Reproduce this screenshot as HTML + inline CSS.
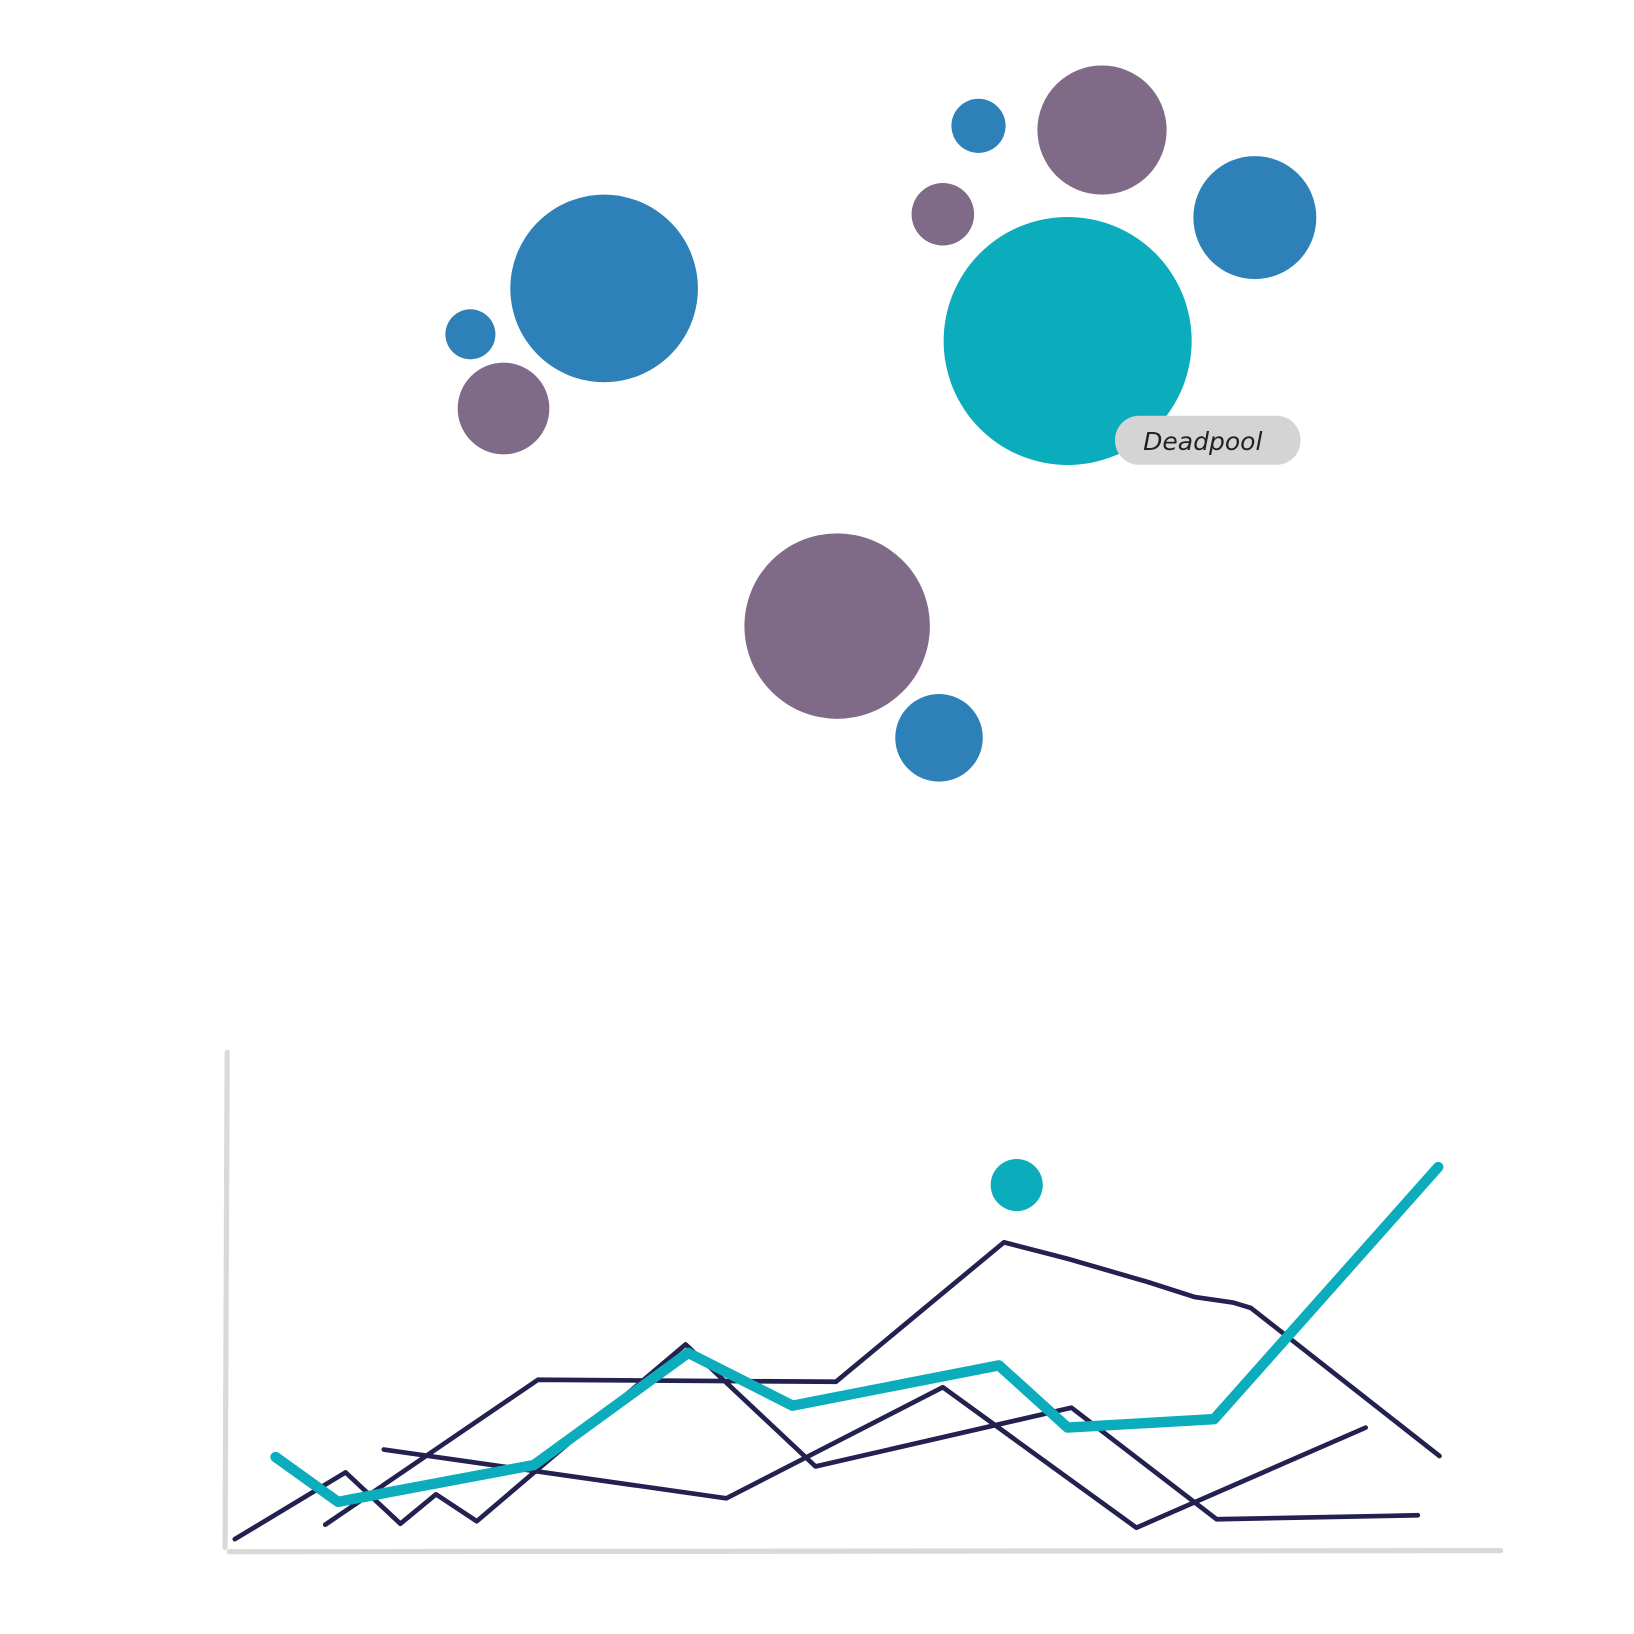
<!DOCTYPE html>
<html><head><meta charset="utf-8"><style>
html,body{margin:0;padding:0;background:#fff;}
svg{display:block;}
</style></head><body>
<svg id="chart" width="1634" height="1634" viewBox="0 0 1568 1568" xmlns="http://www.w3.org/2000/svg">
<g id="bubbles"></g>
<g id="lines">
<line x1="218" y1="1010" x2="216" y2="1485" stroke="#dcd8da" stroke-width="5" stroke-linecap="round"/>
<line x1="220" y1="1489" x2="1440" y2="1488" stroke="#dcd8da" stroke-width="5" stroke-linecap="round"/>
</g>
<g>
<rect x="1070" y="399" width="178" height="47" rx="23" fill="#d4d4d4"/>
<text x="1097" y="432" font-family="'DejaVu Sans', cursive" font-style="italic" font-size="24" fill="#222">Deadpool</text>
</g>
</svg>
<script>
// Bubble chart data
const bubbleX = [29.6, 19.1, 59.0, 80.7, 55.9, 21.7, 68.7, 56.2, 47.9, 66.0];
const bubbleY = [65.4, 59.9, 84.9, 73.9, 11.5, 51.0, 84.4, 74.3, 24.9, 59.1];
const bubbleR = [90, 24, 26, 59, 42, 44, 62, 30, 89, 119];
const bubbleGroup = ['blue','blue','blue','blue','blue','purple','purple','purple','purple','teal'];
const groupColors = {blue:'#2e80b8', purple:'#7f6b87', teal:'#0bacbb'};

// Line chart data
const line1X = [0.6, 9.3, 13.6, 16.4, 19.6, 24.1, 36.0, 46.2, 66.3, 77.7, 93.5];
const line1Y = [2.3, 15.7, 5.4, 11.3, 5.9, 15.7, 41.4, 16.9, 28.7, 6.3, 7.1];
const line2X = [7.7, 24.4, 47.8, 61.0, 66.0, 72.2, 76.0, 79.0, 80.4, 95.2];
const line2Y = [5.2, 34.3, 33.9, 61.9, 58.6, 54.0, 50.9, 49.8, 48.7, 19.0];
const line3X = [12.3, 39.2, 56.2, 71.4, 89.4];
const line3Y = [20.3, 10.5, 32.8, 4.6, 24.7];
const tealX = [3.8, 8.7, 24.1, 36.2, 44.4, 60.6, 66.0, 77.5, 95.1];
const tealY = [18.8, 9.8, 17.2, 39.7, 29.1, 37.2, 24.7, 26.4, 77.0];
const dotX = [62.0];
const dotY = [73.4];

const NS = 'http://www.w3.org/2000/svg';
const sx = v => 218 + v * 12.22;
const syLine = v => 1488 - v * 4.78;
const syBub = v => 800 - v * 8;

const bg = document.getElementById('bubbles');
bubbleX.forEach((x, i) => {
  const c = document.createElementNS(NS, 'circle');
  
  
  c.setAttribute('cx', sx(x));
  c.setAttribute('cy', syBub(bubbleY[i]));
  c.setAttribute('r', bubbleR[i]);
  c.setAttribute('fill', groupColors[bubbleGroup[i]]);
  bg.appendChild(c);
});

const lg = document.getElementById('lines');
function drawLine(xs, ys, color, w, name) {
  const p = document.createElementNS(NS, 'polyline');
  
  
  p.setAttribute('points', xs.map((x, i) => sx(x) + ',' + syLine(ys[i])).join(' '));
  p.setAttribute('fill', 'none');
  p.setAttribute('stroke', color);
  p.setAttribute('stroke-width', w);
  p.setAttribute('stroke-linecap', 'round');
  p.setAttribute('stroke-linejoin', 'round');
  lg.appendChild(p);
}
drawLine(line1X, line1Y, '#23214f', 4.5, 'line-series-1');
drawLine(line2X, line2Y, '#23214f', 4.5, 'line-series-2');
drawLine(line3X, line3Y, '#23214f', 4.5, 'line-series-3');
drawLine(tealX, tealY, '#0bacbb', 10, 'line-series-highlight');
dotX.forEach((x, i) => {
  const c = document.createElementNS(NS, 'circle');
  
  
  c.setAttribute('cx', sx(x));
  c.setAttribute('cy', syLine(dotY[i]));
  c.setAttribute('r', 25);
  c.setAttribute('fill', '#0bacbb');
  lg.appendChild(c);
});
</script>
</body></html>
